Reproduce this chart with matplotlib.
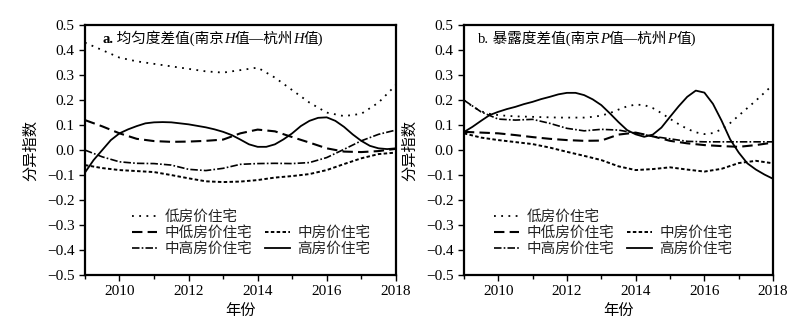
import matplotlib
matplotlib.use("Agg")
import matplotlib.pyplot as plt
from matplotlib.lines import Line2D
from matplotlib.ticker import MultipleLocator, FuncFormatter

plt.rcParams["font.family"] = ["Liberation Serif", "Noto Sans CJK SC"]

# values: half-year steps, quarter-year for the solid curves
years = [2009 + 0.5 * i for i in range(19)]
years_q = [2009 + 0.25 * i for i in range(37)]

# a. 均匀度差值
h_low = [0.43, 0.40, 0.37, 0.355, 0.345, 0.335, 0.325, 0.315, 0.31, 0.32,
         0.33, 0.29, 0.24, 0.19, 0.15, 0.136, 0.145, 0.19, 0.26]
h_midlow = [0.12, 0.095, 0.067, 0.045, 0.036, 0.033, 0.034, 0.037, 0.042, 0.067,
            0.082, 0.075, 0.052, 0.03, 0.007, -0.006, -0.008, -0.004, 0.005]
h_mid = [-0.06, -0.072, -0.08, -0.084, -0.088, -0.1, -0.113, -0.125, -0.128, -0.126,
         -0.12, -0.11, -0.104, -0.096, -0.08, -0.056, -0.033, -0.016, -0.01]
h_midhigh = [0.0, -0.027, -0.047, -0.053, -0.054, -0.06, -0.077, -0.082, -0.073, -0.057,
             -0.054, -0.053, -0.054, -0.05, -0.03, 0.003, 0.037, 0.063, 0.08]
h_high = [-0.09, -0.04, 0.0, 0.04, 0.067, 0.083, 0.096, 0.107, 0.111, 0.112,
          0.111, 0.107, 0.103, 0.097, 0.091, 0.083, 0.073, 0.06, 0.042, 0.023,
          0.013, 0.013, 0.023, 0.043, 0.067, 0.096, 0.117, 0.129, 0.131, 0.117,
          0.093, 0.063, 0.037, 0.017, 0.007, 0.004, 0.007]

# b. 暴露度差值
p_low = [0.2, 0.175, 0.155, 0.145, 0.14, 0.137, 0.135, 0.134, 0.133, 0.132,
         0.131, 0.13, 0.13, 0.13, 0.13, 0.133, 0.138, 0.148, 0.162, 0.175,
         0.182, 0.18, 0.168, 0.148, 0.125, 0.104, 0.085, 0.071, 0.064, 0.068,
         0.083, 0.108, 0.138, 0.168, 0.198, 0.23, 0.262]
p_midlow = [0.073, 0.07, 0.067, 0.06, 0.052, 0.045, 0.04, 0.037, 0.038, 0.062,
            0.07, 0.055, 0.037, 0.027, 0.02, 0.016, 0.013, 0.02, 0.03]
p_mid = [0.067, 0.05, 0.04, 0.032, 0.024, 0.01, -0.007, -0.023, -0.04, -0.065,
         -0.08, -0.076, -0.069, -0.078, -0.086, -0.075, -0.052, -0.043, -0.053]
p_midhigh = [0.2, 0.153, 0.124, 0.12, 0.123, 0.107, 0.087, 0.077, 0.083, 0.08,
             0.068, 0.055, 0.045, 0.035, 0.033, 0.033, 0.033, 0.033, 0.033]
p_high = [0.072, 0.093, 0.117, 0.14, 0.153, 0.164, 0.173, 0.184, 0.193, 0.204,
          0.213, 0.223, 0.229, 0.229, 0.22, 0.203, 0.18, 0.147, 0.112, 0.08,
          0.063, 0.053, 0.062, 0.09, 0.133, 0.175, 0.213, 0.238, 0.23, 0.185,
          0.118, 0.043, -0.01, -0.053, -0.078, -0.098, -0.115]

labels = ["低房价住宅", "中低房价住宅", "中房价住宅", "中高房价住宅", "高房价住宅"]
styles = [
    dict(linestyle=(0, (1, 3)), linewidth=1.3),
    dict(linestyle=(0, (5, 2.5)), linewidth=1.5),
    dict(linestyle=(0, (1.8, 1.2)), linewidth=1.4),
    dict(linestyle=(0, (4.5, 1.3, 1, 1.3)), linewidth=1.2),
    dict(linestyle="-", linewidth=1.3),
]


def minus_fmt(v, pos):
    return f"{v:.1f}".replace("-", "\u2212")


def draw_title(ax, x, y, pieces):
    prev = None
    for txt, style, weight in pieces:
        if prev is None:
            prev = ax.text(x, y, txt, transform=ax.transAxes, fontsize=10.5,
                           fontstyle=style, fontweight=weight, va="baseline")
        else:
            prev = ax.annotate(txt, xy=(1, y), xycoords=(prev, "axes fraction"),
                               fontsize=10.5, fontstyle=style, fontweight=weight,
                               va="baseline", ha="left")


def draw_panel(ax, series, title_pieces, title_x, leg_x):
    handles = []
    for vals, lab, st in zip(series, labels, styles):
        xs = years_q if len(vals) == len(years_q) else years
        h, = ax.plot(xs, vals, color="black", label=lab, **st)
        handles.append(h)

    ax.set_xlim(2009, 2018)
    ax.set_ylim(-0.5, 0.5)
    ax.xaxis.set_major_locator(MultipleLocator(2))
    ax.xaxis.set_minor_locator(MultipleLocator(1))
    ax.yaxis.set_major_locator(MultipleLocator(0.1))
    ax.yaxis.set_major_formatter(FuncFormatter(minus_fmt))
    ax.tick_params(which="both", direction="out", labelsize=11, width=1.0)
    ax.tick_params(which="major", length=4)
    ax.tick_params(which="minor", length=3)
    for s in ax.spines.values():
        s.set_linewidth(1.6)

    ax.set_xlabel("年份", fontsize=11, labelpad=4)
    ax.set_ylabel("分异指数", fontsize=11, labelpad=6)

    blank = Line2D([], [], linestyle="none")
    order = [handles[0], handles[1], handles[3], blank, handles[2], handles[4]]
    names = [labels[0], labels[1], labels[3], " ", labels[2], labels[4]]
    ax.legend(order, names, ncol=2, loc="upper left", bbox_to_anchor=(leg_x, 0.3),
              frameon=False, fontsize=10.5, handlelength=1.7, handletextpad=0.5,
              columnspacing=0.9, labelspacing=0.15, borderpad=0.2,
              labelcolor="#222222")

    draw_title(ax, title_x, 0.93, title_pieces)


fig = plt.figure(figsize=(7.97, 3.35), dpi=100)
ax1 = fig.add_axes([0.1066, 0.179, 0.390, 0.746])
ax2 = fig.add_axes([0.582, 0.179, 0.388, 0.746])

draw_panel(ax1, [h_low, h_midlow, h_mid, h_midhigh, h_high],
           [("a.", "normal", "bold"), (" 均匀度差值(南京", "normal", "normal"),
            ("H", "italic", "normal"), ("值—杭州", "normal", "normal"),
            ("H", "italic", "normal"), ("值)", "normal", "normal")],
           0.055, 0.12)
draw_panel(ax2, [p_low, p_midlow, p_mid, p_midhigh, p_high],
           [("b.", "normal", "normal"), (" 暴露度差值(南京", "normal", "normal"),
            ("P", "italic", "normal"), ("值—杭州", "normal", "normal"),
            ("P", "italic", "normal"), ("值)", "normal", "normal")],
           0.045, 0.065)

fig.savefig("out.png", dpi=100)
